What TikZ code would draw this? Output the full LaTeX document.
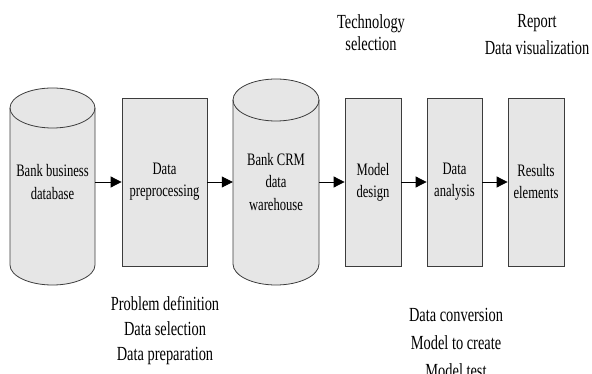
\documentclass[tikz,border=0pt]{standalone}
\usepackage{fontspec}
\setmainfont{Liberation Serif}[FakeStretch=0.72]
\usetikzlibrary{positioning,calc}
\usetikzlibrary{arrows.meta}
\definecolor{BoxGray}{RGB}{230,230,230}
\definecolor{LineGray}{RGB}{60,60,60}
\tikzset{
	stage/.style={draw=LineGray,fill=BoxGray,line width=0.8pt,minimum height=168,
		inner sep=0pt,align=center,font=\fontsize{17.5}{22}\selectfont},
	dbtext/.style={inner sep=0pt,minimum height=150,align=center,font=\fontsize{17.5}{22.5}\selectfont},
	dbshape/.style={draw=LineGray,fill=BoxGray,line width=0.8pt},
	flow/.style={draw=black,line width=0.8pt,-{Triangle[length=11pt,width=11pt]}},
	note/.style={align=center,inner sep=0pt},
}

\begin{document}
\begin{tikzpicture}[x=1pt,y=-1pt]
	\useasboundingbox (0,0) rectangle (592,374);
	% the two databases
	\filldraw[dbshape] (10,108) -- (10,265) arc[start angle=180,end angle=0,x radius=42.5,y radius=20]
		-- (95,108) arc[start angle=0,end angle=-180,x radius=42.5,y radius=20] -- cycle;
	\draw[dbshape,fill=none] (95,108) arc[start angle=0,end angle=180,x radius=42.5,y radius=20];
	\filldraw[dbshape] (233,100) -- (233,264) arc[start angle=180,end angle=0,x radius=43,y radius=21]
		-- (319,100) arc[start angle=0,end angle=-180,x radius=43,y radius=21] -- cycle;
	\draw[dbshape,fill=none] (319,100) arc[start angle=0,end angle=180,x radius=43,y radius=21];
	\node[dbtext,minimum width=85] (bankdb) at (52.5,182) {Bank business\\database};
	\node[dbtext,minimum width=86] (crmdw) at (276,182) {Bank CRM\\data\\warehouse};
	% processing steps
	\node[stage,minimum width=85] (prep) at (164.5,182) {Data\\preprocessing};
	\node[stage,minimum width=56] (design) at (373,182) {Model\\design};
	\node[stage,minimum width=55] (analysis) at (454.5,182) {Data\\analysis};
	\node[stage,minimum width=56] (results) at (536,182) {Results\\elements};
	\draw[flow] (bankdb) -- (prep);
	\draw[flow] (prep) -- (crmdw);
	\draw[flow] (crmdw) -- (design);
	\draw[flow] (design) -- (analysis);
	\draw[flow] (analysis) -- (results);
	% notes
	\node[note,font=\fontsize{20}{22}\selectfont] (tech) at (371,33) {Technology\\selection};
	\node[note,font=\fontsize{20}{27}\selectfont] (report) at (537,35) {Report\\Data visualization};
	\node[note,font=\fontsize{20}{25}\selectfont] (problem) at (165,331) {Problem definition\\Data selection\\Data preparation};
	\node[note,font=\fontsize{20}{28}\selectfont] (conv) at (456,343) {Data conversion\\Model to create\\Model test};
\end{tikzpicture}
\end{document}
